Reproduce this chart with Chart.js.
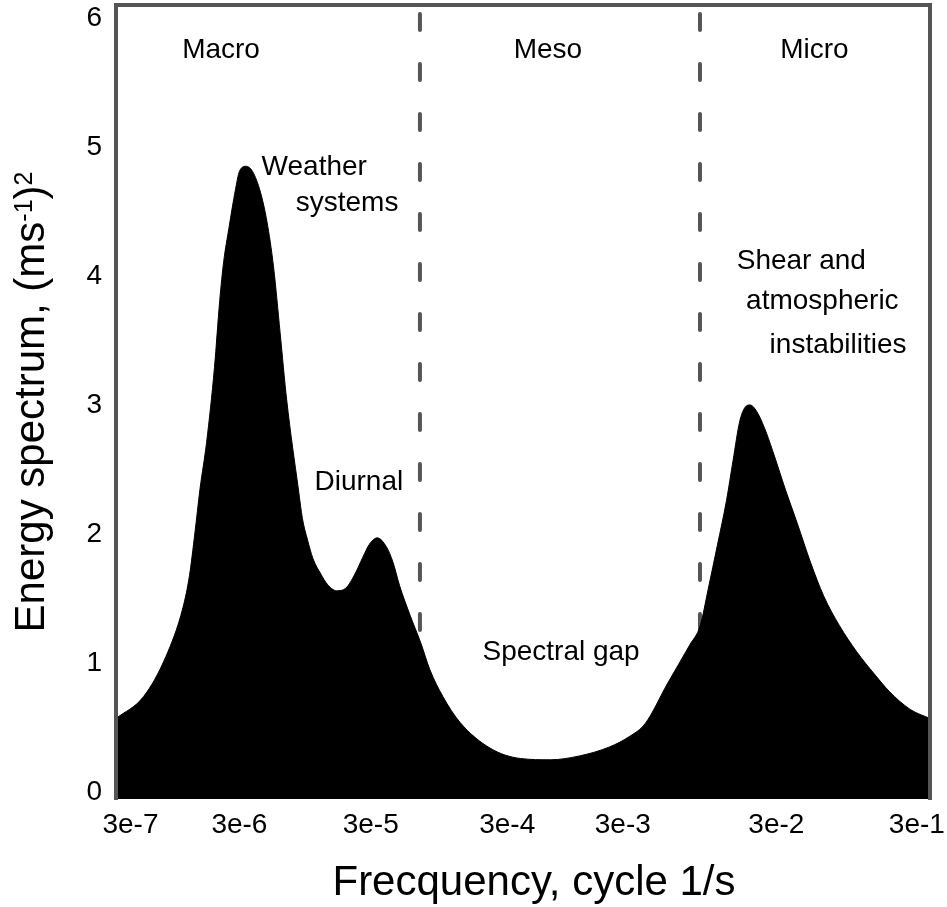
<!DOCTYPE html>
<html>
<head>
<meta charset="utf-8">
<script src="https://cdn.jsdelivr.net/npm/chart.js@4.4.1/dist/chart.umd.min.js"></script>
<style>
  html, body { margin: 0; padding: 0; background: #fff; }
</style>
</head>
<body>
<canvas id="spectrum" width="947" height="907"></canvas>
<script>
// x is measured in decades along the frequency axis (0 = left edge of the plot)
const xTickPos = [0.11, 0.94, 1.94, 2.98, 3.86, 5.03, 6.10];
const xTickLabels = ['3e-7', '3e-6', '3e-5', '3e-4', '3e-3', '3e-2', '3e-1'];
const yTicks = [0, 1, 2, 3, 4, 5, 6];

// energy spectrum
const freqPos = [0.00, 0.21, 0.38, 0.51, 0.56, 0.60, 0.64, 0.69, 0.75, 0.79, 0.82, 0.86, 0.91, 0.94,
                 0.99, 1.04, 1.10, 1.15, 1.20, 1.25, 1.30, 1.39, 1.42, 1.46, 1.50, 1.56, 1.61, 1.68,
                 1.75, 1.82, 1.88, 1.93, 1.99, 2.06, 2.11, 2.16, 2.24, 2.32, 2.39, 2.49, 2.62, 2.85,
                 3.08, 3.31, 3.53, 3.76, 3.91, 4.03, 4.20, 4.37, 4.45, 4.51, 4.58, 4.65, 4.70, 4.75,
                 4.79, 4.83, 4.88, 4.94, 5.00, 5.10, 5.19, 5.29, 5.39, 5.51, 5.64, 5.78, 5.89, 6.05,
                 6.20];
const energy = [0.57, 0.74, 1.05, 1.43, 1.68, 2.00, 2.35, 2.71, 3.29, 3.81, 4.11, 4.37, 4.67, 4.81,
                4.85, 4.81, 4.65, 4.42, 4.07, 3.56, 3.04, 2.34, 2.12, 1.95, 1.81, 1.69, 1.61, 1.56,
                1.58, 1.69, 1.82, 1.92, 1.97, 1.90, 1.78, 1.60, 1.37, 1.16, 0.95, 0.74, 0.54, 0.34,
                0.26, 0.25, 0.28, 0.35, 0.43, 0.53, 0.84, 1.14, 1.29, 1.57, 1.91, 2.26, 2.57, 2.87,
                2.98, 3.00, 2.95, 2.82, 2.65, 2.34, 2.08, 1.78, 1.52, 1.29, 1.09, 0.91, 0.78, 0.64,
                0.57];

// boundaries between macro / meso / micro scales
const scaleBounds = [2.315, 4.448];
const regionNames = ['Macro', 'Meso', 'Micro'];
const peakNotes = ['Weather', 'systems', 'Diurnal', 'Spectral gap', 'Shear and', 'atmospheric', 'instabilities'];

const FONT = '"Liberation Sans", Arial, sans-serif';

const curve = freqPos.map((x, i) => ({ x: x, y: energy[i] }));

const dashed = scaleBounds.map(b => ({
    data: [{ x: b, y: 6.03 }, { x: b, y: 0 }],
    borderColor: '#555',
    borderWidth: 4,
    borderDash: [16, 34],
    borderCapStyle: 'round',
    pointRadius: 0,
    fill: false,
    order: 1
}));

const framePlugin = {
    id: 'frame',
    afterDatasetsDraw(chart) {
        const { ctx, chartArea: a } = chart;
        ctx.save();
        ctx.strokeStyle = '#555';
        ctx.lineWidth = 4;
        ctx.beginPath();
        ctx.moveTo(a.left, a.bottom + 1);
        ctx.lineTo(a.left, a.top);
        ctx.lineTo(a.right, a.top);
        ctx.lineTo(a.right, a.bottom + 1);
        ctx.stroke();
        ctx.restore();
    }
};

const labelPlugin = {
    id: 'labels',
    afterDraw(chart) {
        const { ctx, scales: { x, y } } = chart;
        const spots = [
            [regionNames[0], 0.80, 5.75], [regionNames[1], 3.29, 5.75], [regionNames[2], 5.32, 5.75],
            [peakNotes[0], 1.51, 4.84], [peakNotes[1], 1.76, 4.56], [peakNotes[2], 1.85, 2.40],
            [peakNotes[3], 3.39, 1.08], [peakNotes[4], 5.22, 4.11], [peakNotes[5], 5.38, 3.80],
            [peakNotes[6], 5.50, 3.46]
        ];
        ctx.save();
        ctx.fillStyle = '#000';
        ctx.font = '28px ' + FONT;
        ctx.textAlign = 'center';
        ctx.textBaseline = 'middle';
        spots.forEach(s => ctx.fillText(s[0], x.getPixelForValue(s[1]), y.getPixelForValue(s[2])));

        // x axis title
        ctx.font = '42px ' + FONT;
        ctx.textBaseline = 'alphabetic';
        ctx.fillText('Frecquency, cycle 1/s', 534, 895);

        // y axis title with real superscripts
        const parts = [
            ['Energy spectrum, (ms', 42, 0],
            ['-1', 25, -12],
            [')', 42, 0],
            ['2', 25, -12]
        ];
        let total = 0;
        parts.forEach(p => { ctx.font = p[1] + 'px ' + FONT; total += ctx.measureText(p[0]).width; });
        ctx.translate(44, (chart.chartArea.top + chart.chartArea.bottom) / 2);
        ctx.rotate(-Math.PI / 2);
        ctx.textAlign = 'left';
        let pos = -total / 2;
        parts.forEach(p => {
            ctx.font = p[1] + 'px ' + FONT;
            ctx.fillText(p[0], pos, p[2]);
            pos += ctx.measureText(p[0]).width;
        });
        ctx.restore();
    }
};

new Chart(document.getElementById('spectrum'), {
    type: 'line',
    data: {
        datasets: [{
            data: curve,
            borderColor: '#000',
            borderWidth: 1,
            backgroundColor: '#000',
            fill: 'start',
            pointRadius: 0,
            cubicInterpolationMode: 'monotone',
            order: 0
        }, ...dashed]
    },
    options: {
        responsive: false,
        animation: false,
        layout: { padding: { top: 5, right: 17, bottom: 0, left: 0 } },
        plugins: { legend: { display: false }, tooltip: { enabled: false } },
        scales: {
            x: {
                type: 'linear',
                min: 0,
                max: 6.2,
                grid: { display: false, drawTicks: false },
                border: { display: false },
                afterBuildTicks: s => { s.ticks = xTickPos.map(v => ({ value: v })); },
                afterFit: s => { s.height = 108; s.paddingLeft = 0; s.paddingRight = 0; },
                ticks: {
                    autoSkip: false,
                    maxRotation: 0,
                    padding: 9,
                    color: '#000',
                    font: { size: 28, family: FONT },
                    callback: (v, i) => xTickLabels[i]
                }
            },
            y: {
                type: 'linear',
                min: -0.054,
                max: 6.10,
                grid: { display: false, drawTicks: false },
                border: { display: false },
                afterBuildTicks: s => { s.ticks = yTicks.map(v => ({ value: v })); },
                afterFit: s => { s.width = 116; s.paddingTop = 0; s.paddingBottom = 0; },
                ticks: {
                    padding: 14,
                    color: '#000',
                    font: { size: 28, family: FONT }
                }
            }
        }
    },
    plugins: [framePlugin, labelPlugin]
});
</script>
</body>
</html>
